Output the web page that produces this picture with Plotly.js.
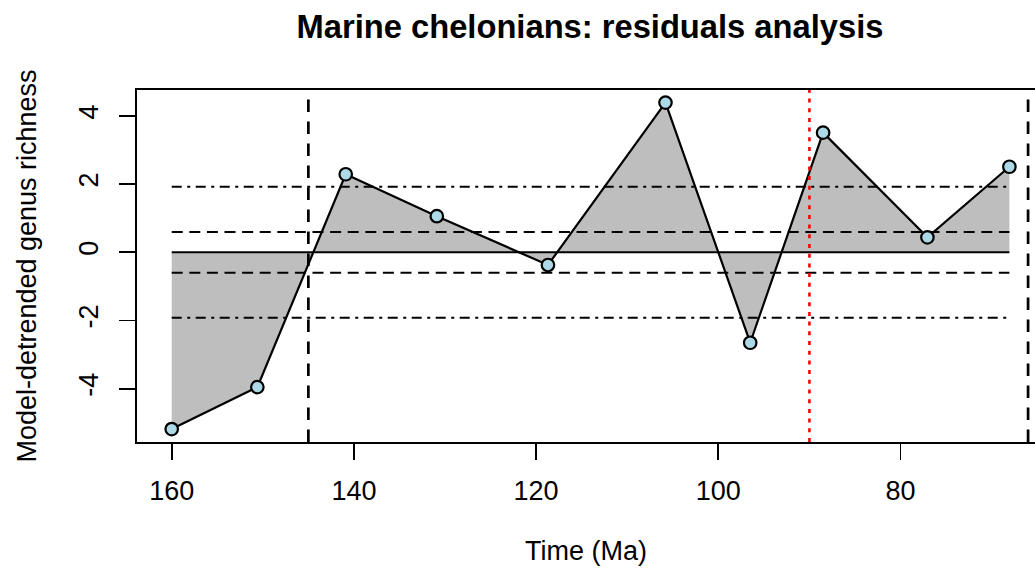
<!DOCTYPE html>
<html>
<head>
<meta charset="utf-8">
<script src="https://cdn.plot.ly/plotly-3.0.1.min.js"></script>
<style>
  html, body { margin: 0; padding: 0; background: #ffffff; }
  #chart { width: 1035px; height: 574px; }
</style>
</head>
<body>
<div id="chart"></div>
<script>
// Residuals of genus richness after model detrending, by age (Ma)
const timeMa    = [160.0, 150.6, 140.9, 130.9, 118.7, 105.8, 96.5, 88.5, 77.05, 68.05];
const residuals = [-5.18, -3.95, 2.29, 1.06, -0.37, 4.39, -2.65, 3.51, 0.44, 2.51];

// Reference bands around zero
const innerBand = [0.6, -0.6];
const outerBand = [1.92, -1.92];

// Period boundaries (Ma) and a highlighted event
const boundaries = [145, 66];
const eventAge   = [90];

const xTicks = [160, 140, 120, 100, 80];
const yTicks = [-4, -2, 0, 2, 4];

const FONT = 'Liberation Sans, Arial, Helvetica, sans-serif';
const xFirst = timeMa[0];
const xLast = timeMa[timeMa.length - 1];

function hline(y, dash) {
  return {
    x: [xFirst, xLast], y: [y, y],
    mode: 'lines', type: 'scatter', hoverinfo: 'skip', showlegend: false,
    line: { color: '#000000', width: 2, dash: dash }
  };
}

const traces = [];
// grey area between the residual curve and zero
traces.push({
  x: timeMa, y: residuals, type: 'scatter', mode: 'lines',
  fill: 'tozeroy', fillcolor: '#BEBEBE',
  line: { width: 0, color: 'rgba(0,0,0,0)' },
  hoverinfo: 'skip', showlegend: false
});
traces.push(hline(0, 'solid'));
innerBand.forEach(v => traces.push(hline(v, '11px,6.6px')));
outerBand.forEach(v => traces.push(hline(v, '10px,5.5px,3px,5.5px')));
// residual curve with points
traces.push({
  x: timeMa, y: residuals, type: 'scatter', mode: 'lines+markers',
  line: { color: '#000000', width: 2.2 },
  marker: { size: 12.5, color: '#ADD8E6', line: { color: '#000000', width: 2.2 } },
  showlegend: false
});

const shapes = [];
boundaries.forEach(a => shapes.push({
  type: 'line', xref: 'x', yref: 'paper', x0: a, x1: a, y0: 0, y1: 1,
  line: { color: '#000000', width: 2.7, dash: '12.5px,9.5px' }, layer: 'above'
}));
eventAge.forEach(a => shapes.push({
  type: 'line', xref: 'x', yref: 'paper', x0: a, x1: a, y0: 0, y1: 1,
  line: { color: '#FF0000', width: 2.6, dash: '4px,5.7px' }, layer: 'above'
}));

const layout = {
  width: 1035, height: 574,
  margin: { l: 137, r: 0, t: 90, b: 132, pad: 0 },
  paper_bgcolor: '#ffffff', plot_bgcolor: '#ffffff',
  font: { family: FONT, color: '#000000', size: 27 },
  title: {
    text: '<b>Marine chelonians: residuals analysis</b>',
    font: { family: FONT, size: 32.7, color: '#000000' },
    x: 590 / 1035, xref: 'container', xanchor: 'center',
    y: 1 - 27 / 574, yref: 'container', yanchor: 'middle'
  },
  xaxis: {
    range: [163.81, 65.24], autorange: false,
    tickmode: 'array', tickvals: xTicks, ticktext: xTicks.map(String),
    ticks: 'outside', ticklen: 16, tickwidth: 1.8, tickcolor: '#000000',
    showline: true, linecolor: '#000000', linewidth: 1.8, mirror: true,
    showgrid: false, zeroline: false,
    tickfont: { family: FONT, size: 27 },
    ticklabelstandoff: 8,
    title: { text: 'Time (Ma)', font: { family: FONT, size: 27 }, standoff: 36 }
  },
  yaxis: {
    range: [-5.56, 4.76], autorange: false,
    tickmode: 'array', tickvals: yTicks, ticktext: yTicks.map(String),
    tickangle: -90,
    ticks: 'outside', ticklen: 16, tickwidth: 1.8, tickcolor: '#000000',
    showline: true, linecolor: '#000000', linewidth: 1.8, mirror: false,
    showgrid: false, zeroline: false,
    tickfont: { family: FONT, size: 27 },
    ticklabelstandoff: 10,
    title: { text: 'Model-detrended genus richness', font: { family: FONT, size: 27 }, standoff: 30 }
  },
  shapes: shapes
};

Plotly.newPlot('chart', traces, layout, { displayModeBar: false, staticPlot: true });
</script>
</body>
</html>
